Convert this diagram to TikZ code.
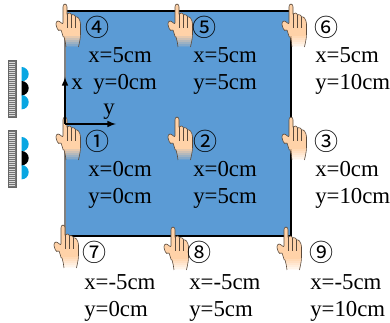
\documentclass[tikz,border=0pt]{standalone}
\usepackage{fontspec}
\setmainfont{Liberation Serif}
\newfontfamily\circfont{Noto Sans CJK SC}
\definecolor{platecol}{HTML}{5B9BD5}
\definecolor{skincol}{HTML}{FFD2A8}
\definecolor{handcol}{HTML}{5A4A3C}
\definecolor{lenscol}{HTML}{08A6E2}
\newcommand{\handpath}{(-2,3) to[out=90,in=180] (0,0) to[out=0,in=90] (2,3) -- (2,10)
  to[out=60,in=180] (4.5,9) to[out=0,in=120] (6.5,11) to[out=60,in=180] (9,11) to[out=0,in=120] (10.5,13)
  to[out=60,in=150] (13.5,14) to[out=-60,in=90] (15.5,20) -- (15.5,30) to[out=-90,in=80] (13.5,43)
  -- (1,43) to[out=100,in=-70] (-1,33) to[out=-110,in=60] (-5,26) to[out=-120,in=-90] (-9,20)
  to[out=90,in=180] (-7,17) to[out=0,in=-100] (-2,19) -- cycle}
\tikzset{
  x=0.75pt,y=-0.75pt,
  lab/.style={font=\fontsize{17.1}{20}\selectfont,inner sep=0pt,anchor=base west},
  numlab/.style={font=\fontsize{18}{24}\selectfont\circfont,inner sep=0pt},
  axis/.style={line width=1.2pt,-latex},
  pics/hand/.style={code={
    \begin{scope}
      \clip \handpath;
      \fill[skincol] (-10,-1) rectangle (17,32);
      \foreach \bandy/\bandop in {32/0.85,34/0.7,36/0.55,38/0.4,40/0.25,42/0.1}
        \fill[skincol,opacity=\bandop] (-10,\bandy) rectangle (17,\bandy+2);
    \end{scope}
    \draw[handcol,line width=0.45pt] (1,43) to[out=100,in=-70] (-1,33) to[out=-110,in=60] (-5,26)
      to[out=-120,in=-90] (-9,20) to[out=90,in=180] (-7,17) to[out=0,in=-100] (-2,19) -- (-2,3)
      to[out=90,in=180] (0,0) to[out=0,in=90] (2,3) -- (2,10) to[out=60,in=180] (4.5,9)
      to[out=0,in=120] (6.5,11) to[out=60,in=180] (9,11) to[out=0,in=120] (10.5,13)
      to[out=60,in=150] (13.5,14) to[out=-60,in=90] (15.5,20) -- (15.5,30) to[out=-90,in=80] (13.5,43);
    \draw[handcol,line width=0.4pt] (2,10)--(2,24) (6.5,11)--(6.5,24) (10.5,13)--(10.5,24);
  }},
  comb/.style={draw=black!60,line width=0.3pt,fill=black!55},
}
\begin{document}
\begin{tikzpicture}
  \useasboundingbox (0,0) rectangle (390,323);
  %lastra
  \fill[platecol] (65,11) rectangle (291,236);
  \draw[line width=0.8pt] (65,11)--(291,11)--(291,236)--(65,236);
  \draw[black!50,line width=0.8pt] (65,11)--(65,236);
  %pettini a sinistra
  \foreach \combtop/\combbot in {60/117,130/187}{
    \draw[comb] (8,\combtop) rectangle (16,\combbot);
    \foreach \tooth in {1,...,27}
      \draw[white!85!black,line width=0.35pt] (9,\combtop+\tooth*2.04) -- (15,\combtop+\tooth*2.04);
  }
  %lenti
  \foreach \lensy in {67,137}{
    \fill[lenscol] (21.5,\lensy) arc[start angle=-90,end angle=90,radius=7.2] -- cycle;
    \fill[lenscol] (21.5,\lensy+28) arc[start angle=-90,end angle=90,radius=7.2] -- cycle;
    \fill[black] (21.5,\lensy+14) arc[start angle=-90,end angle=90,radius=7.2] -- cycle;
  }
  %mani
  \foreach \handx/\handy in {65/4,177/4,291/4,65/117,177/117,291/117,63/225,173/227,286/227}
    \pic at (\handx,\handy) {hand};
  %assi
  \coordinate (orig) at (65,124);
  \coordinate (xend) at (65,77);
  \coordinate (yend) at (116,124);
  \draw[axis] (orig)--(xend);
  \draw[axis] (orig)--(yend);
  \node[lab] (xname) at (71,90) {x};
  \node[lab] (yname) at (103,115) {y};
  %numeri e valori
  \foreach \nname/\num/\numx/\numy/\labx/\laby/\liney/\xtxt/\ytxt in {
    a/①/97/141/88/88/177/x=0cm/y=0cm,
    b/②/205/141/193/193/177/x=0cm/y=5cm,
    c/③/326/141/315/315/177/x=0cm/y=10cm,
    d/④/97/27/88/93/63/x=5cm/y=0cm,
    e/⑤/204/27/193/193/63/x=5cm/y=5cm,
    f/⑥/326/27/315/315/63/x=5cm/y=10cm,
    g/⑦/95/252/84/84/290/x=-5cm/y=0cm,
    h/⑧/199/252/189/189/290/x=-5cm/y=5cm,
    i/⑨/321/252/310/310/290/x=-5cm/y=10cm}{
    \node[numlab] (num\nname) at (\numx,\numy) {\num};
    \node[lab] (xval\nname) at (\labx,\liney) {\xtxt};
    \node[lab] (yval\nname) at (\laby,\liney+27) {\ytxt};
  }
\end{tikzpicture}
\end{document}
